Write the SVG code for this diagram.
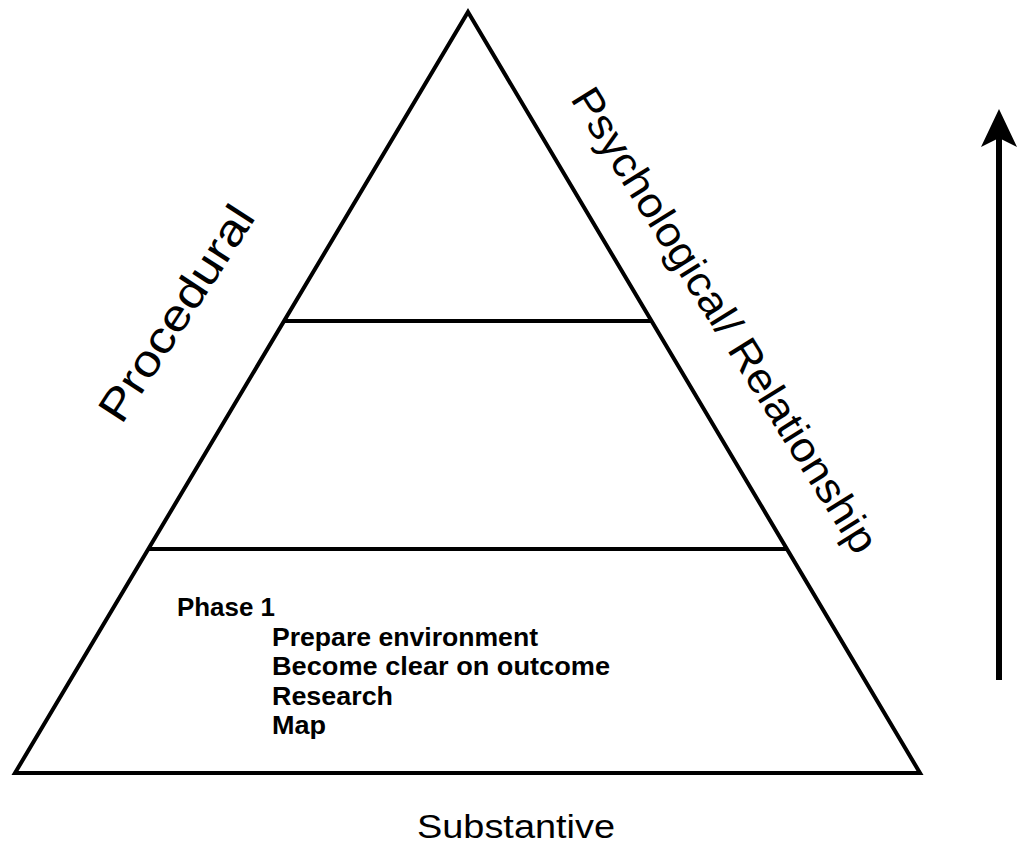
<svg xmlns="http://www.w3.org/2000/svg" width="1026" height="848" viewBox="0 0 1026 848">
<style>
.edge{fill:none;stroke:#000;stroke-width:4;stroke-linejoin:miter}
.div{stroke:#000;stroke-width:4;fill:none}
.lbl{font-family:"Liberation Sans",Arial,sans-serif;fill:#000}
.item{font-family:"Liberation Sans",Arial,sans-serif;font-weight:bold;font-size:25px;fill:#000}
</style>
<defs>
<marker id="ah" markerUnits="userSpaceOnUse" markerWidth="38" markerHeight="36" refX="10" refY="18" orient="auto" viewBox="0 0 38 36">
<path d="M0,0 L38,18 L0,36 L9,18 Z" fill="#000"/>
</marker>
</defs>
<rect width="1026" height="848" fill="#fff"/>
<g id="pyramid">
<polygon class="edge" points="468,12 920,773 15,773"/>
</g>
<g id="divider-upper"><line class="div" x1="285" y1="321" x2="651" y2="321"/></g>
<g id="divider-lower"><line class="div" x1="149" y1="549" x2="786" y2="549"/></g>
<g id="tier-bottom">
<text class="item" x="177" y="616" textLength="98" lengthAdjust="spacingAndGlyphs">Phase 1</text>
<text class="item" x="272" y="646" textLength="266" lengthAdjust="spacingAndGlyphs">Prepare environment</text>
<text class="item" x="272" y="675" textLength="338" lengthAdjust="spacingAndGlyphs">Become clear on outcome</text>
<text class="item" x="272" y="705" textLength="121" lengthAdjust="spacingAndGlyphs">Research</text>
<text class="item" x="272" y="734" textLength="54" lengthAdjust="spacingAndGlyphs">Map</text>
</g>
<g id="label-procedural">
<text class="lbl" font-size="44" text-anchor="middle" dominant-baseline="central" transform="translate(176,313) rotate(-57)" textLength="248" lengthAdjust="spacingAndGlyphs">Procedural</text>
</g>
<g id="label-psych">
<text class="lbl" font-size="42" text-anchor="middle" dominant-baseline="central" transform="translate(725,320) rotate(58)" textLength="540" lengthAdjust="spacingAndGlyphs">Psychological/ Relationship</text>
</g>
<g id="label-substantive">
<text class="lbl" font-size="33" text-anchor="middle" x="516" y="838" textLength="198" lengthAdjust="spacingAndGlyphs">Substantive</text>
</g>
<g id="connectors">
<line x1="999" y1="680" x2="999" y2="137" stroke="#000" stroke-width="6" marker-end="url(#ah)"/>
</g>
</svg>
